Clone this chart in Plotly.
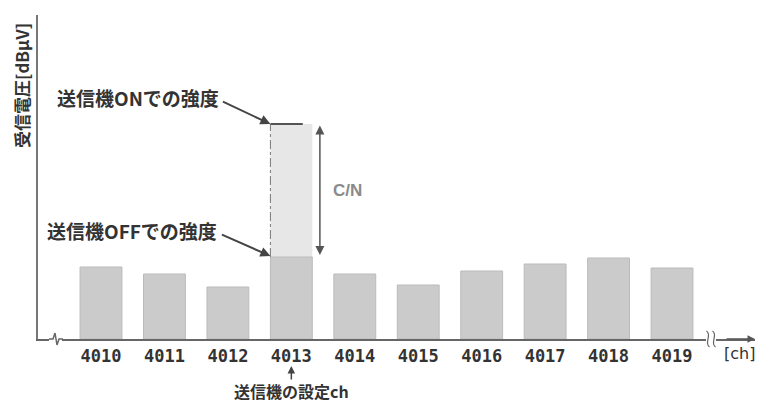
import plotly.graph_objects as go

# ---- data (relative levels) ----
channels = [4010, 4011, 4012, 4013, 4014, 4015, 4016, 4017, 4018, 4019]
tick_labels = ["4010", "4011", "4012", "4013", "4014", "4015", "4016", "4017", "4018", "4019"]
off_levels = [72, 65, 52, 82, 65, 54, 68, 75, 81, 71]   # transmitter OFF
set_channel = 4013
on_level = 215                                            # transmitter ON on set channel

y_title = "受信電圧[dBμV]"
x_unit = "[ch]"
label_on = "送信機ONでの強度"
label_off = "送信機OFFでの強度"
label_set = "送信機の設定ch"
label_cn = "C/N"

# ---- geometry (page body has an 8px margin) ----
OFF = 8
W, H = 763 - OFF, 405 - OFF
ML, MR, MT, MB = 38 - OFF, 8, 15 - OFF, 66
PW, PH = W - ML - MR, H - MT - MB
X0, X1 = 4009.007, 4020.308
Y0, Y1 = 0, 324
BW = 0.66

def px(xp):   # page pixel x -> paper
    return (xp - OFF - ML) / PW

def py(yp):   # page pixel y -> paper
    return (H - MB - (yp - OFF)) / PH

off_set = off_levels[channels.index(set_channel)]
CJK = "Noto Sans CJK JP"
TXT = "#333333"

fig = go.Figure()

# ON bar (light)
fig.add_trace(go.Bar(
    x=[set_channel], y=[on_level], width=BW,
    marker=dict(color="#e7e7e7", line=dict(width=0)),
    hoverinfo="skip", showlegend=False))
# OFF bars
fig.add_trace(go.Bar(
    x=channels, y=off_levels, width=BW,
    marker=dict(color="#cbcbcb", line=dict(color="#bbbbbb", width=1)),
    hoverinfo="skip", showlegend=False))

shapes = []
# dashed left edge of ON bar
shapes.append(dict(type="line", xref="x", yref="y",
                   x0=set_channel - BW / 2, x1=set_channel - BW / 2,
                   y0=off_set, y1=on_level,
                   line=dict(color="#777777", width=1, dash="dashdot")))
# top line of ON bar
shapes.append(dict(type="line", xref="x", yref="y",
                   x0=set_channel - BW / 2, x1=set_channel + BW / 2 - 0.15,
                   y0=on_level, y1=on_level,
                   line=dict(color="#555555", width=2)))
# left axis break
shapes.append(dict(type="rect", xref="paper", yref="paper",
                   x0=px(49), x1=px(62), y0=py(342), y1=py(336),
                   fillcolor="white", line=dict(width=0), layer="above"))
shapes.append(dict(type="path", xref="paper", yref="paper",
                   path=f"M {px(49)} {py(339)} L {px(53)} {py(339)} L {px(55)} {py(333)} "
                        f"L {px(57)} {py(345)} L {px(59)} {py(339)} L {px(63)} {py(339)}",
                   line=dict(color="#666666", width=1.5), layer="above"))
# right axis break
shapes.append(dict(type="rect", xref="paper", yref="paper",
                   x0=px(706), x1=px(716), y0=py(342), y1=py(336),
                   fillcolor="white", line=dict(width=0), layer="above"))
for xb in (708, 714):
    shapes.append(dict(type="path", xref="paper", yref="paper",
                       path=f"M {px(xb - 1.5)} {py(331)} Q {px(xb + 1.5)} {py(333)} {px(xb)} {py(339)} "
                            f"Q {px(xb - 1.5)} {py(345)} {px(xb + 1.5)} {py(347)}",
                       line=dict(color="#666666", width=1.2), layer="above"))

C = dict(xanchor="center", yanchor="middle")
annotations = []
# C/N double arrow
cn_x = set_channel + 0.45
annotations.append(dict(x=cn_x, y=off_set + 2, xref="x", yref="y",
                        ax=cn_x, ay=on_level, axref="x", ayref="y",
                        text="", showarrow=True, arrowhead=2, arrowside="end+start",
                        arrowsize=1.2, arrowwidth=1.5, arrowcolor="#555555"))
annotations.append(dict(x=px(347), y=py(190), xref="paper", yref="paper",
                        text=f"<b>{label_cn}</b>", showarrow=False, **C,
                        font=dict(family="Arial", size=17, color="#8a8a8a")))
# ON label + arrow
annotations.append(dict(x=px(138), y=py(97), xref="paper", yref="paper",
                        text=f"<b>{label_on}</b>", showarrow=False, **C,
                        font=dict(family=CJK, size=19, color=TXT)))
annotations.append(dict(x=set_channel - BW / 2, y=on_level, xref="x", yref="y",
                        ax=-49, ay=-23, text="", showarrow=True, arrowhead=2,
                        arrowsize=1, arrowwidth=2, arrowcolor="#444444"))
# OFF label + arrow
annotations.append(dict(x=px(132), y=py(230), xref="paper", yref="paper",
                        text=f"<b>{label_off}</b>", showarrow=False, **C,
                        font=dict(family=CJK, size=19, color=TXT)))
annotations.append(dict(x=set_channel - BW / 2, y=off_set + 1, xref="x", yref="y",
                        ax=-50, ay=-22, text="", showarrow=True, arrowhead=2,
                        arrowsize=1, arrowwidth=2, arrowcolor="#444444"))
# set channel label + up arrow
annotations.append(dict(x=set_channel, y=py(366), xref="x", yref="paper",
                        ax=0, ay=15, text="", showarrow=True, arrowhead=2,
                        arrowsize=1, arrowwidth=1.5, arrowcolor="#444444"))
annotations.append(dict(x=set_channel, y=py(391), xref="x", yref="paper",
                        text=f"<b>{label_set}</b>", showarrow=False, **C,
                        font=dict(family=CJK, size=16, color=TXT)))
# x axis arrow head
annotations.append(dict(x=1.0, y=0, xref="paper", yref="paper",
                        ax=-30, ay=0, text="", showarrow=True, arrowhead=2,
                        arrowsize=1, arrowwidth=1.5, arrowcolor="#555555"))
# [ch] unit
annotations.append(dict(x=px(739), y=py(353), xref="paper", yref="paper",
                        text=x_unit, showarrow=False, **C,
                        font=dict(family="DejaVu Sans", size=16, color=TXT)))
# y title
annotations.append(dict(x=px(22), y=py(86), xref="paper", yref="paper",
                        text=f"<b>{y_title}</b>", showarrow=False, textangle=-90, **C,
                        font=dict(family=CJK, size=17, color=TXT)))

fig.update_layout(
    width=W, height=H,
    margin=dict(l=ML, r=MR, t=MT, b=MB),
    paper_bgcolor="white", plot_bgcolor="white",
    barmode="overlay", showlegend=False,
    shapes=shapes, annotations=annotations,
    xaxis=dict(range=[X0, X1], tickvals=channels, ticktext=tick_labels,
               showline=True, linecolor="#666666", linewidth=1.5,
               showgrid=False, zeroline=False, ticks="",
               ticklabelstandoff=1,
               tickfont=dict(family="DejaVu Sans Mono", size=17, color=TXT, weight="bold")),
    yaxis=dict(range=[Y0, Y1], showline=True, linecolor="#777777", linewidth=2,
               showgrid=False, zeroline=False, showticklabels=False, ticks=""),
)

fig.write_html("out.html")
